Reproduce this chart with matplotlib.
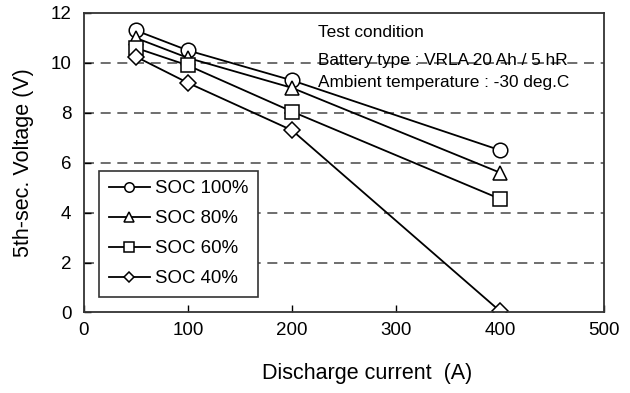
import numpy as np
import matplotlib.pyplot as plt

plt.rcParams['font.family'] = ['Liberation Sans', 'DejaVu Sans']

current = [50, 100, 200, 400]
soc100 = [11.3, 10.5, 9.3, 6.5]
soc80 = [11.0, 10.2, 9.0, 5.6]
soc60 = [10.6, 9.9, 8.05, 4.55]
soc40 = [10.25, 9.2, 7.3, 0.05]
labels = ['SOC 100%', 'SOC 80%', 'SOC 60%', 'SOC 40%']
markers = ['o', '^', 's', 'D']

fig, ax = plt.subplots(figsize=(6.3, 3.93), dpi=100)
fig.subplots_adjust(left=0.133, right=0.959, top=0.967, bottom=0.205)

for ys, lab, m in zip([soc100, soc80, soc60, soc40], labels, markers):
    ms = 8.5 if m == 'D' else 10.5
    ax.plot(current, ys, color='black', lw=1.3, marker=m, ms=ms,
            mfc='white', mec='black', mew=1.1, label=lab)

ax.set_xlim(0, 500)
ax.set_ylim(0, 12)
ax.set_xticks(np.arange(0, 501, 100))
ax.set_yticks(np.arange(0, 13, 2))
for y in range(2, 12, 2):
    ax.axhline(y, color='#555555', lw=1.2, ls=(0, (6, 4)), zorder=0)
ax.tick_params(direction='in', labelsize=13.5, length=5, width=1)
ax.tick_params(axis='x', pad=7)
ax.tick_params(axis='y', pad=9)
for s in ax.spines.values():
    s.set_linewidth(1.3)
    s.set_color('#333333')

ax.set_xlabel('Discharge current  (A)', fontsize=15.5, labelpad=20)
ax.xaxis.set_label_coords(0.544, -0.17)
ax.set_ylabel('5th-sec. Voltage (V)', fontsize=15.5, labelpad=12)

ax.text(225, 11.2, 'Test condition', fontsize=12.4, va='center')
ax.text(225, 10.1, 'Battery type : VRLA 20 Ah / 5 hR', fontsize=12.4, va='center')
ax.text(225, 9.2, 'Ambient temperature : -30 deg.C', fontsize=12.4, va='center')

leg = ax.legend(loc='lower left', bbox_to_anchor=(0.012, 0.022), fontsize=13.4,
                fancybox=False, edgecolor='#333333', framealpha=1, markerscale=0.65,
                handlelength=2.2, labelspacing=0.7, borderpad=0.5, handletextpad=0.3)
leg.get_frame().set_linewidth(1.2)

plt.savefig('out.png')
